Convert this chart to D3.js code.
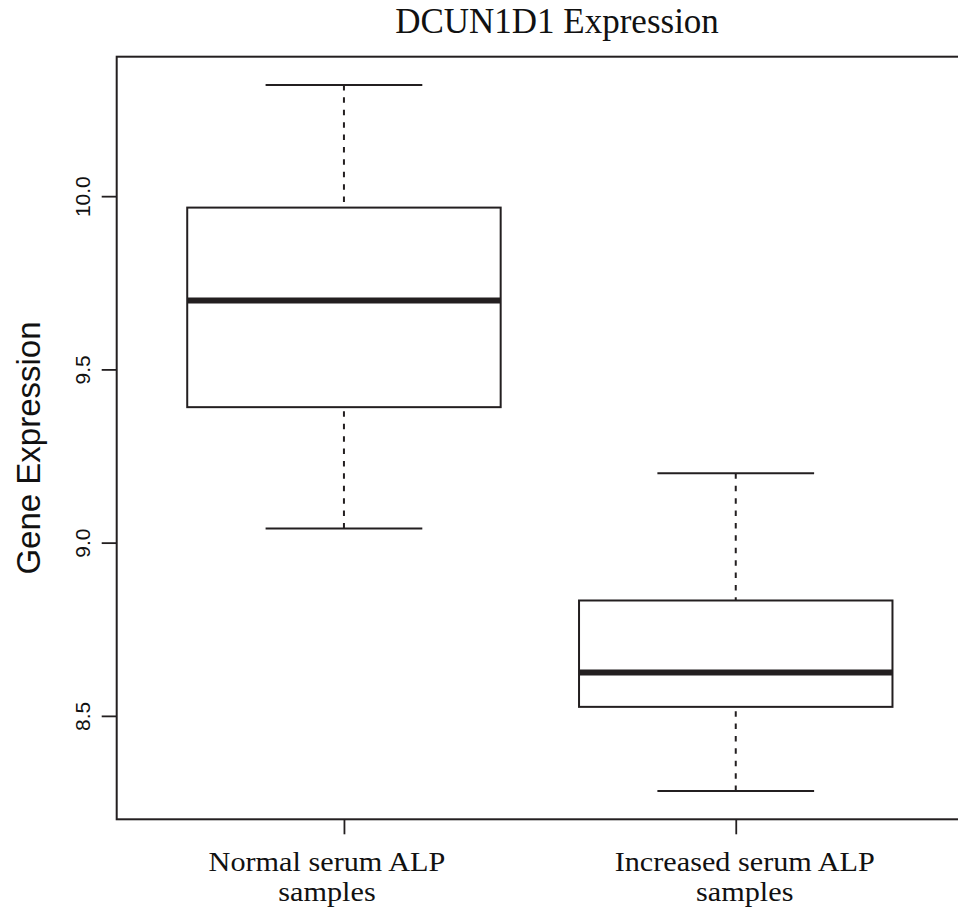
<!DOCTYPE html>
<html>
<head>
<meta charset="utf-8">
<script src="https://cdn.jsdelivr.net/npm/d3@7"></script>
<style>
    body { margin: 0; background: #ffffff; }
</style>
</head>
<body>
<div id="canvas"></div>
<script>
"use strict"

/* Boxplot statistics */
let groupLines = [["Normal serum ALP", "samples"], ["Increased serum ALP", "samples"]];
let whiskerLow = [9.041, 8.283];
let quartile1 = [9.391, 8.526];
let medians = [9.699, 8.625];
let quartile3 = [9.967, 8.833];
let whiskerHigh = [10.321, 9.200];
let yTicks = [8.5, 9.0, 9.5, 10.0];

/* Configuration variables: drawing */
let svgWidth = 958;
let svgHeight = 911;
let plotLeft = 116.7;
let plotRight = 963;   // right border falls just outside the picture
let plotTop = 56.7;
let plotBottom = 819.3;
let ink = "#231f20";
let serif = "'Liberation Serif', 'DejaVu Serif', serif";
let sans = "'Liberation Sans', Arial, sans-serif";

let svg = d3.select("#canvas")
    .append("svg")
    .attr("width", svgWidth)
    .attr("height", svgHeight);

/* Scales - like R, the limits are padded by 4% */
let n = groupLines.length;
let xPad = n * 0.04;
let xScale = d3.scaleLinear()
    .domain([0.5 - xPad, n + 0.5 + xPad])
    .range([plotLeft, plotRight]);

let yMin = d3.min(whiskerLow);
let yMax = d3.max(whiskerHigh);
let yPad = (yMax - yMin) * 0.04;
let yScale = d3.scaleLinear()
    .domain([yMin - yPad, yMax + yPad])
    .range([plotBottom, plotTop]);

let boxHalf = 0.4;
let capHalf = 0.2;

let stats = groupLines.map(function (d, i) {
    return { pos: i + 1, lo: whiskerLow[i], q1: quartile1[i], med: medians[i], q3: quartile3[i], hi: whiskerHigh[i] };
});

/* whiskers (dashed), drawn from the cap towards the box */
let plot = svg.append("g");
stats.forEach(function (s) {
    [[s.hi, s.q3], [s.lo, s.q1]].forEach(function (seg) {
        plot.append("line")
            .attr("x1", xScale(s.pos)).attr("x2", xScale(s.pos))
            .attr("y1", yScale(seg[0])).attr("y2", yScale(seg[1]))
            .attr("stroke", ink)
            .attr("stroke-width", 2)
            .attr("stroke-dasharray", "5.5,6.9");
    });

    /* caps */
    [s.hi, s.lo].forEach(function (v) {
        plot.append("line")
            .attr("x1", xScale(s.pos - capHalf)).attr("x2", xScale(s.pos + capHalf))
            .attr("y1", yScale(v)).attr("y2", yScale(v))
            .attr("stroke", ink)
            .attr("stroke-width", 2);
    });

    /* box */
    plot.append("rect")
        .attr("x", xScale(s.pos - boxHalf))
        .attr("y", yScale(s.q3))
        .attr("width", xScale(s.pos + boxHalf) - xScale(s.pos - boxHalf))
        .attr("height", yScale(s.q1) - yScale(s.q3))
        .attr("fill", "white")
        .attr("stroke", ink)
        .attr("stroke-width", 2);

    /* median */
    plot.append("line")
        .attr("x1", xScale(s.pos - boxHalf)).attr("x2", xScale(s.pos + boxHalf))
        .attr("y1", yScale(s.med)).attr("y2", yScale(s.med))
        .attr("stroke", ink)
        .attr("stroke-width", 6);
});

/* frame */
svg.append("rect")
    .attr("x", plotLeft)
    .attr("y", plotTop)
    .attr("width", plotRight - plotLeft)
    .attr("height", plotBottom - plotTop)
    .attr("fill", "none")
    .attr("stroke", ink)
    .attr("stroke-width", 2);

/* Y axis */
let yAxis = svg.append("g")
    .attr("transform", "translate(" + plotLeft + ",0)")
    .call(d3.axisLeft(yScale).tickValues(yTicks).tickFormat(d3.format(".1f")).tickSize(15));
yAxis.select(".domain").remove();
yAxis.selectAll(".tick line").attr("stroke", ink).attr("stroke-width", 1.8);
yAxis.selectAll(".tick text")
    .attr("x", null)
    .attr("dy", null)
    .attr("transform", "translate(-27,0) rotate(-90)")
    .attr("text-anchor", "middle")
    .attr("fill", "#111")
    .style("font-family", sans)
    .style("font-size", "21px");

/* X axis */
let xAxis = svg.append("g")
    .attr("transform", "translate(0," + plotBottom + ")")
    .call(d3.axisBottom(xScale).tickValues(stats.map(function (s) { return s.pos; })).tickFormat("").tickSize(15));
xAxis.select(".domain").remove();
xAxis.selectAll(".tick line").attr("stroke", ink).attr("stroke-width", 1.8);

/* Category labels, two lines each (set a little off the ticks, as in the original) */
let labelShift = [-17, 9];
groupLines.forEach(function (lines, i) {
    lines.forEach(function (line, j) {
        svg.append("text")
            .attr("transform", "translate(" + (xScale(i + 1) + labelShift[i]) + "," + (871 + j * 30) + ") scale(1.12,1)")
            .attr("text-anchor", "middle")
            .attr("fill", "#111")
            .style("font-family", serif)
            .style("font-size", "27px")
            .text(line);
    });
});

/* Title */
svg.append("text")
    .attr("x", 557)
    .attr("y", 33)
    .attr("text-anchor", "middle")
    .attr("fill", "#111")
    .style("font-family", serif)
    .style("font-size", "35px")
    .text("DCUN1D1 Expression");

/* Y axis title */
svg.append("text")
    .attr("transform", "translate(40,448) rotate(-90)")
    .attr("text-anchor", "middle")
    .attr("fill", "#111")
    .style("font-family", sans)
    .style("font-size", "33px")
    .text("Gene Expression");
</script>
</body>
</html>
